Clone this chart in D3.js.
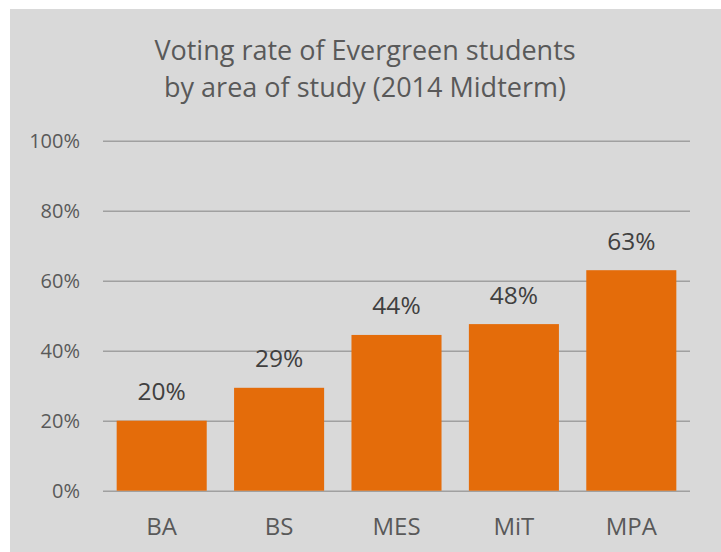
<!DOCTYPE html>
<html>
<head>
<meta charset="utf-8">
<script src="https://cdn.jsdelivr.net/npm/d3@7/dist/d3.min.js"></script>
<style>
  body { margin: 0; background: #fff; }
  svg { display: block; font-family: "Open Sans", sans-serif; }
</style>
</head>
<body>
<div class="chart"></div>
<script>
// data
const areas = ['BA', 'BS', 'MES', 'MiT', 'MPA'];
const rates = [0.20, 0.294, 0.445, 0.476, 0.63];
const rateLabels = ['20%', '29%', '44%', '48%', '63%'];
const yTicks = [0, 0.2, 0.4, 0.6, 0.8, 1.0];
const titleLines = ['Voting rate of Evergreen students', 'by area of study (2014 Midterm)'];

const width = 721, height = 552;
const margin = {top: 140.7, right: 31, bottom: 61.3, left: 103};
const chart_width = width - margin.left - margin.right;
const chart_height = height - margin.top - margin.bottom;

const svg = d3.select('.chart').append('svg')
  .attr('width', width).attr('height', height);

// grey chart area
svg.append('rect')
  .attr('x', 10).attr('y', 9)
  .attr('width', width - 10).attr('height', height - 9)
  .attr('fill', '#d9d9d9');

const g = svg.append('g')
  .attr('transform', `translate(${margin.left},${margin.top})`);

const xScale = d3.scaleBand().domain(areas)
  .range([0, chart_width])
  .paddingInner(0.233).paddingOuter(0.1165);
const yScale = d3.scaleLinear().domain([0, 1]).range([chart_height, 0]);

// gridlines + y labels
const yAxis = d3.axisLeft(yScale)
  .tickValues(yTicks)
  .tickFormat(d3.format('.0%'))
  .tickSize(-chart_width)
  .tickPadding(23);
const yAxisDraw = g.append('g').attr('class', 'y axis').call(yAxis);
yAxisDraw.select('.domain').remove();
yAxisDraw.selectAll('line').attr('stroke', '#a0a0a0').attr('stroke-width', 1.5);
yAxisDraw.selectAll('text')
  .attr('fill', '#595959')
  .style('font-size', '20px')
  .style('font-family', '"Open Sans", sans-serif');

// bars
g.selectAll('.bar')
  .data(areas)
  .enter()
  .append('rect')
  .attr('class', 'bar')
  .attr('x', d => xScale(d))
  .attr('y', (d, i) => yScale(rates[i]))
  .attr('width', xScale.bandwidth())
  .attr('height', (d, i) => chart_height - yScale(rates[i]))
  .attr('fill', '#e46c0a');

// value labels
g.selectAll('.value')
  .data(areas)
  .enter()
  .append('text')
  .attr('class', 'value')
  .attr('x', d => xScale(d) + xScale.bandwidth() / 2)
  .attr('y', (d, i) => yScale(rates[i]) - 20.5)
  .attr('text-anchor', 'middle')
  .attr('fill', '#404040')
  .style('font-size', '24.5px')
  .text((d, i) => rateLabels[i]);

// category axis
const xAxis = d3.axisBottom(xScale).tickSize(0).tickPadding(0);
const xAxisDraw = g.append('g').attr('class', 'x axis')
  .attr('transform', `translate(0,${chart_height})`)
  .call(xAxis);
xAxisDraw.select('.domain').remove();
xAxisDraw.selectAll('text')
  .attr('fill', '#595959')
  .attr('dy', null)
  .attr('y', 44.3)
  .style('font-size', '24px')
  .style('font-family', '"Open Sans", sans-serif');

// title
const header = svg.append('text')
  .attr('text-anchor', 'middle')
  .attr('fill', '#595959')
  .style('font-size', '27px');
header.selectAll('tspan')
  .data(titleLines)
  .enter()
  .append('tspan')
  .attr('x', 365)
  .attr('y', (d, i) => 59.5 + i * 37)
  .text(d => d);
</script>
</body>
</html>
